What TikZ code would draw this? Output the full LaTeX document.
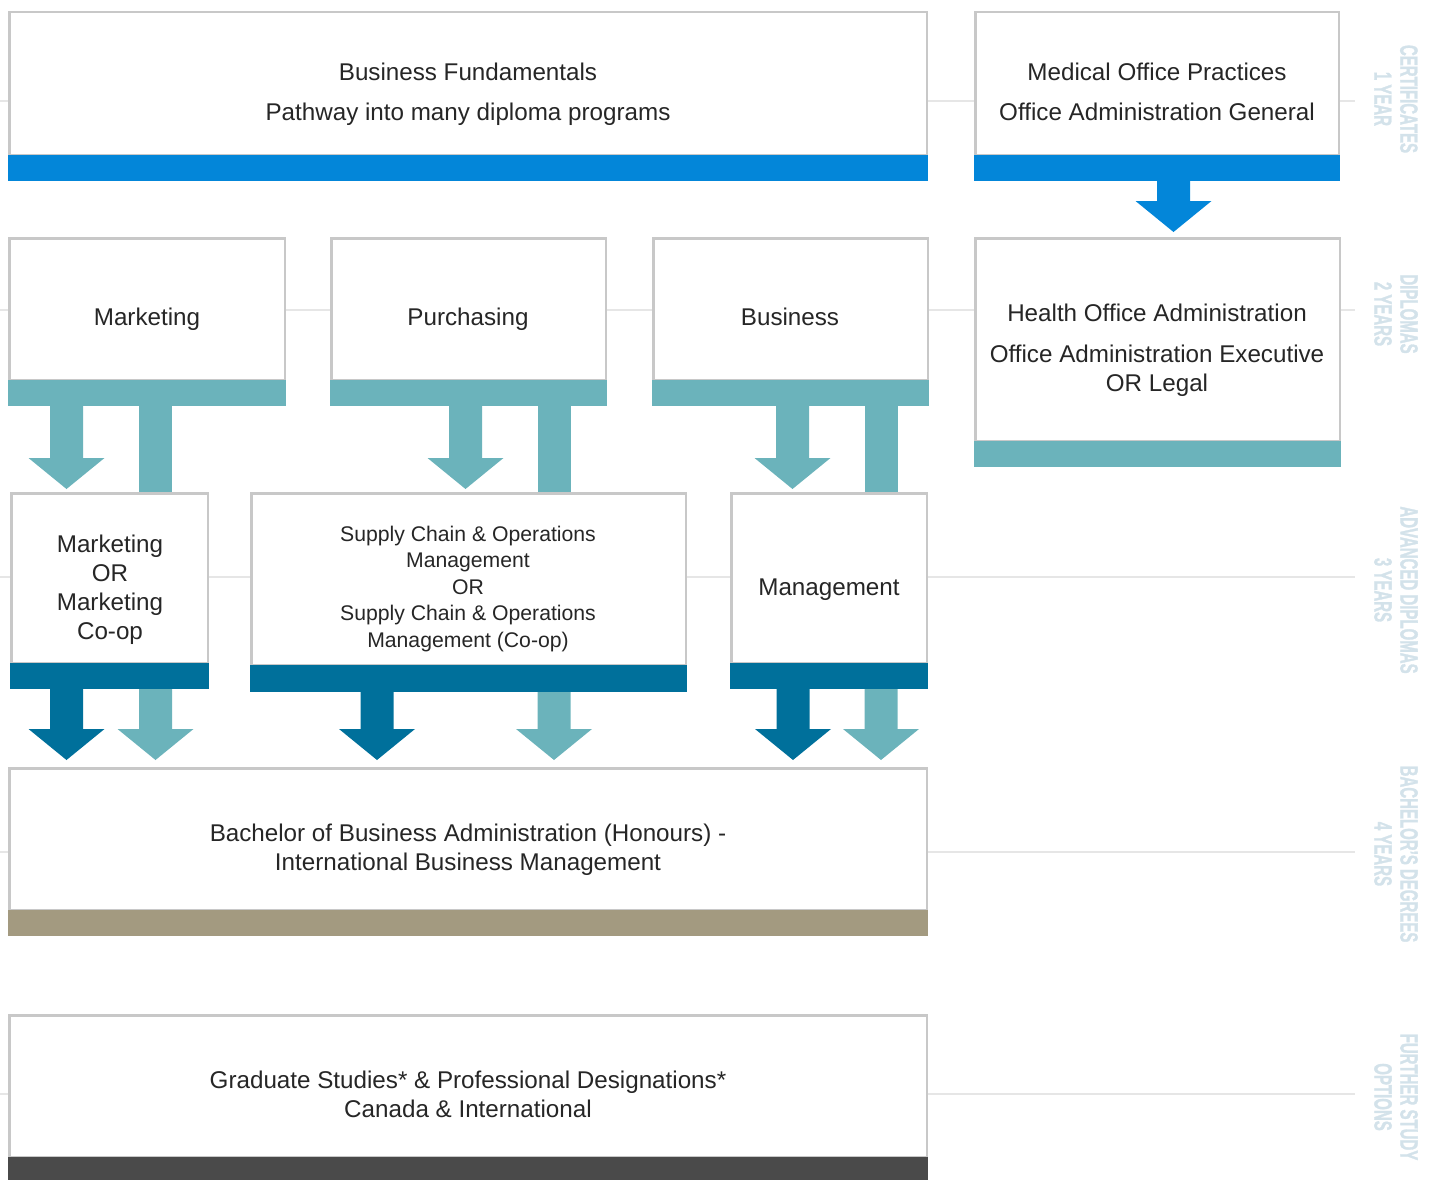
\documentclass[tikz,border=0pt]{standalone}
\usepackage{fontspec}
\setmainfont{Liberation Sans}
\newfontfamily\bandfont[FakeStretch=0.6,FakeBold=1.2]{Liberation Sans Bold}
\definecolor{certblue}{HTML}{0386D9}
\definecolor{diplteal}{HTML}{6BB3BB}
\definecolor{advblue}{HTML}{00709B}
\definecolor{degtaupe}{HTML}{A39A80}
\definecolor{optgray}{HTML}{4A4A4A}
\definecolor{framegray}{HTML}{C8C8C8}
\definecolor{rulegray}{HTML}{E6E6E6}
\definecolor{bandtext}{HTML}{D3E2EA}
\definecolor{bodytext}{HTML}{262626}
\tikzset{
	boxline/.style={draw=framegray, line width=2.5pt, fill=white},
	rowline/.style={draw=rulegray, line width=2pt},
	prog/.style={text=bodytext, align=center, inner sep=0pt, font=\fontsize{24.2}{29}\selectfont},
	band/.style={text=bandtext, rotate=-90, align=center, inner sep=0pt, font=\bandfont\fontsize{25}{26}\selectfont}
}
\def\progbox[#1](#2,#3,#4)(#5,#6){\draw[boxline] (#2+1.25,#3+1.25) rectangle (#4-1.25,#5); \fill[#1] (#2,#5) rectangle (#4,#6);}
\def\blockarrow[#1](#2,#3,#4,#5){\fill[#1] (#2-16.5,#3) -- (#2+16.5,#3) -- (#2+16.5,#4) -- (#2+38,#4) -- (#2,#5) -- (#2-38,#4) -- (#2-16.5,#4) -- cycle;}
\def\blockstem[#1](#2,#3,#4){\fill[#1] (#2-16.5,#3) rectangle (#2+16.5,#4);}

\begin{document}
\begin{tikzpicture}[x=1pt,y=-1pt]
	%%%%% START %%%%%
	\useasboundingbox (0,0) rectangle (1438,1180);
	
	\draw[rowline] (0,101) -- (1355,101);
	\draw[rowline] (0,310) -- (1355,310);
	\draw[rowline] (0,577) -- (1355,577);
	\draw[rowline] (0,852) -- (1355,852);
	\draw[rowline] (0,1094) -- (1355,1094);
	
	\progbox[certblue](8,11,928)(155,181)
	\progbox[certblue](974,11,1340)(155,181)
	\blockarrow[certblue](1173.5,181,201,232)
	
	\progbox[diplteal](8,237,286)(380,406)
	\progbox[diplteal](330,237,607)(380,406)
	\progbox[diplteal](652,237,929)(380,406)
	\progbox[diplteal](974,237,1341)(441,467)
	
	\blockarrow[diplteal](66.5,406,458,489)
	\blockstem[diplteal](155.5,406,493)
	\blockarrow[diplteal](465.5,406,458,489)
	\blockstem[diplteal](554.5,406,493)
	\blockarrow[diplteal](792.5,406,458,489)
	\blockstem[diplteal](881.5,406,493)
	
	\progbox[advblue](10,492,209)(663,689)
	\progbox[advblue](250,492,687)(665,692)
	\progbox[advblue](730,492,928)(663,689)
	
	\blockarrow[advblue](66.5,689,729,760)
	\blockarrow[diplteal](155.5,689,729,760)
	\blockarrow[advblue](377,692,729,760)
	\blockarrow[diplteal](554,692,729,760)
	\blockarrow[advblue](793,689,729,760)
	\blockarrow[diplteal](881,689,729,760)
	
	\progbox[degtaupe](8,767,928)(910,936)
	\progbox[optgray](8,1014,928)(1157,1181)
	
	\node[prog] (fund) at (468,94.4) {Business Fundamentals\\[11pt]Pathway into many diploma programs};
	\node[prog] (medical) at (1157,92) {Medical Office Practices\\[11pt]Office Administration General};
	\node[prog] (mkt) at (147,319.4) {Marketing};
	\node[prog] (purch) at (468,319.4) {Purchasing};
	\node[prog] (bus) at (790,316.9) {Business};
	\node[prog] (health) at (1157,350.4) {Health Office Administration\\[12pt]Office Administration Executive\\OR Legal};
	\node[prog] (mktadv) at (110,589.4) {Marketing\\OR\\Marketing\\Co-op};
	\node[prog, font=\fontsize{21.2}{26.5}\selectfont] (scm) at (468,589) {Supply Chain \& Operations\\Management\\OR\\Supply Chain \& Operations\\Management (Co-op)};
	\node[prog] (mgmt) at (829,589.4) {Management};
	\node[prog] (bba) at (468,849.9) {Bachelor of Business Administration (Honours) -\\International Business Management};
	\node[prog] (grad) at (468,1094.4) {Graduate Studies* \& Professional Designations*\\Canada \& International};
	
	\node[band] (cert) at (1396,99) {CERTIFICATES\\1 YEAR};
	\node[band] (dipl) at (1396,314) {DIPLOMAS\\2 YEARS};
	\node[band] (adv) at (1396,590) {ADVANCED DIPLOMAS\\3 YEARS};
	\node[band] (deg) at (1396,854) {BACHELOR’S DEGREES\\4 YEARS};
	\node[band] (opt) at (1396,1097) {FURTHER STUDY\\OPTIONS};
	%%%%% END %%%%%
\end{tikzpicture}
\end{document}
